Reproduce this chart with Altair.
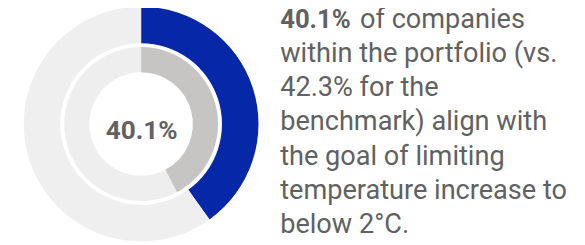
import altair as alt
import pandas as pd

# ---- data ----
portfolio_labels = ["Portfolio aligned", "Portfolio not aligned"]
portfolio_values = [40.1, 59.9]
benchmark_labels = ["Benchmark aligned", "Benchmark not aligned"]
benchmark_values = [42.3, 57.7]
center_label = ["40.1%"]
headline_bold = ["40.1%"]
headline_rest = ["of companies"]
body_lines = [
    "within the portfolio (vs.",
    "42.3% for the",
    "benchmark) align with",
    "the goal of limiting",
    "temperature increase to",
    "below 2°C.",
]

outer_df = pd.DataFrame({"part": portfolio_labels, "value": portfolio_values, "ord": [0, 1]})
inner_df = pd.DataFrame({"part": benchmark_labels, "value": benchmark_values, "ord": [0, 1]})

CX, CY = 135, 116
TEXT_COLOR = "#616161"
FONT = "Roboto"
FS = 27.5

outer = alt.Chart(outer_df).mark_arc(outerRadius=119, innerRadius=82).encode(
    theta=alt.Theta("value:Q", stack=True),
    order=alt.Order("ord:Q"),
    color=alt.Color("part:N", scale=alt.Scale(domain=portfolio_labels, range=["#0628a8", "#efefef"]), legend=None),
    x=alt.value(CX),
    y=alt.value(CY),
)

inner = alt.Chart(inner_df).mark_arc(outerRadius=78, innerRadius=52.5).encode(
    theta=alt.Theta("value:Q", stack=True),
    order=alt.Order("ord:Q"),
    color=alt.Color("part:N", scale=alt.Scale(domain=benchmark_labels, range=["#c6c5c3", "#eeeeee"]), legend=None),
    x=alt.value(CX),
    y=alt.value(CY),
)

center = alt.Chart(pd.DataFrame({"t": center_label})).mark_text(
    font=FONT, fontSize=26.5, fontWeight="bold", color=TEXT_COLOR, align="center", baseline="alphabetic"
).encode(text="t:N", x=alt.value(135.5), y=alt.value(131.5))

head_b = alt.Chart(pd.DataFrame({"t": headline_bold})).mark_text(
    font=FONT, fontSize=26, fontWeight="bold", color=TEXT_COLOR, align="left", baseline="alphabetic"
).encode(text="t:N", x=alt.value(276), y=alt.value(19))

head_r = alt.Chart(pd.DataFrame({"t": headline_rest})).mark_text(
    font=FONT, fontSize=FS, color=TEXT_COLOR, align="left", baseline="alphabetic"
).encode(text="t:N", x=alt.value(357), y=alt.value(19))

body = alt.Chart(pd.DataFrame({"a": [0]})).mark_text(
    text=body_lines, font=FONT, fontSize=FS, lineHeight=34.7, color=TEXT_COLOR,
    align="left", baseline="alphabetic"
).encode(x=alt.value(276), y=alt.value(53))

chart = alt.layer(outer, inner, center, head_b, head_r, body).resolve_scale(
    color="independent", theta="independent"
).properties(
    width=577, height=237, padding=0, autosize=alt.AutoSizeParams(type="none")
).configure_view(stroke=None)

chart.save("out.html", embed_options={"renderer": "svg", "actions": False})
